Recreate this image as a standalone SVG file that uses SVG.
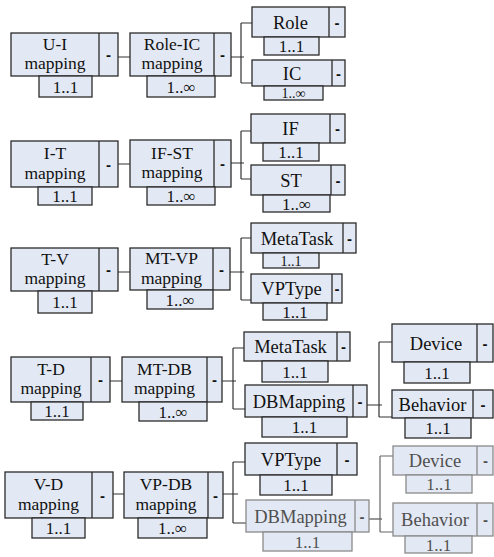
<svg xmlns="http://www.w3.org/2000/svg" width="494" height="557" viewBox="0 0 494 557">
<style>
.b{fill:#e3e9f4;stroke:#2b2b2b;stroke-width:1.3}
.d{stroke:#2b2b2b;stroke-width:1.3}
.t{font-family:"Liberation Serif","Times New Roman",serif;font-size:18.5px;fill:#111;text-anchor:middle}
.t2{font-family:"Liberation Serif","Times New Roman",serif;font-size:17.5px;fill:#111;text-anchor:middle}
.m{font-family:"Liberation Serif","Times New Roman",serif;font-size:17px;fill:#111;text-anchor:middle}
.s{font-size:14px}
.x{font-family:"Liberation Sans",Arial,sans-serif;font-size:15px;font-weight:bold;fill:#111;text-anchor:middle}
.f .b{stroke:#8a8a8a}
.f .d{stroke:#8a8a8a}
.f .t,.f .m,.f .x{fill:#505050}
.c{fill:none;stroke:#333;stroke-width:1.2}
</style>
<rect width="494" height="557" fill="#ffffff"/>
<g id="connectors" class="c">
<path d="M118,57H130M231,57H244M241,23V83M241,23H252M241,83H252"/>
<path d="M118,164H130M231,163H244M241,131V179M241,131H251M241,179H251"/>
<path d="M118,272H130M230,272H244M241,238V300M241,238H251M241,300H251"/>
<path d="M110,381H122M222,381H236M233,348V409M233,348H244M233,409H245M367,405H382M379,342V417M379,342H392M379,417H392"/>
<path d="M113,494H124M223,494H238M233,462V523M233,462H245M233,523H246M369,519H382"/>
<path d="M380,456V532M380,456H393M380,532H393" stroke="#666"/>
</g>
<g id="n_ui">
<rect class="b" x="11" y="33" width="107" height="43"/><line class="d" x1="99" y1="33" x2="99" y2="76"/>
<text class="t2" x="55" y="49.5">U-I</text><text class="t2" x="55" y="69">mapping</text><text class="x" x="108.5" y="60">-</text>
<rect class="b" x="39" y="76" width="53" height="21"/><text class="m" x="65.5" y="92.5">1..1</text>
</g>
<g id="n_roleic">
<rect class="b" x="130" y="33" width="101" height="43"/><line class="d" x1="214" y1="33" x2="214" y2="76"/>
<text class="t2" x="172" y="49.5">Role-IC</text><text class="t2" x="172" y="69">mapping</text><text class="x" x="222.5" y="60">-</text>
<rect class="b" x="147" y="76" width="68" height="21"/><text class="m" x="181" y="92.5">1..∞</text>
</g>
<g id="n_role">
<rect class="b" x="252" y="7" width="93" height="30"/><line class="d" x1="329" y1="7" x2="329" y2="37"/>
<text class="t" x="290.5" y="28.5">Role</text><text class="x" x="337" y="27.5">-</text>
<rect class="b" x="264" y="37" width="55" height="18"/><text class="m" x="291.5" y="52">1..1</text>
</g>
<g id="n_ic">
<rect class="b" x="252" y="60" width="93" height="26"/><line class="d" x1="332" y1="60" x2="332" y2="86"/>
<text class="t" x="292" y="79.5">IC</text><text class="x" x="338.5" y="78.5">-</text>
<rect class="b" x="264" y="86" width="59" height="14"/><text class="m s" x="293.5" y="98">1..∞</text>
</g>
<g id="n_it">
<rect class="b" x="11" y="141" width="107" height="46"/><line class="d" x1="99" y1="141" x2="99" y2="187"/>
<text class="t2" x="55" y="159">I-T</text><text class="t2" x="55" y="178.5">mapping</text><text class="x" x="108.5" y="169.5">-</text>
<rect class="b" x="38" y="187" width="54" height="18"/><text class="m" x="65" y="202">1..1</text>
</g>
<g id="n_ifst">
<rect class="b" x="130" y="140" width="101" height="47"/><line class="d" x1="214" y1="140" x2="214" y2="187"/>
<text class="t2" x="172" y="158.5">IF-ST</text><text class="t2" x="172" y="178">mapping</text><text class="x" x="222.5" y="169">-</text>
<rect class="b" x="147" y="187" width="68" height="18"/><text class="m" x="181" y="202">1..∞</text>
</g>
<g id="n_if">
<rect class="b" x="251" y="114" width="94" height="29"/><line class="d" x1="330" y1="114" x2="330" y2="143"/>
<text class="t" x="290.5" y="135">IF</text><text class="x" x="337.5" y="134">-</text>
<rect class="b" x="263" y="143" width="56" height="18"/><text class="m" x="291" y="158">1..1</text>
</g>
<g id="n_st">
<rect class="b" x="251" y="165" width="94" height="30"/><line class="d" x1="331" y1="165" x2="331" y2="195"/>
<text class="t" x="291" y="186.5">ST</text><text class="x" x="338" y="185.5">-</text>
<rect class="b" x="263" y="195" width="67" height="17"/><text class="m" x="296.5" y="209.5">1..∞</text>
</g>
<g id="n_tv">
<rect class="b" x="11" y="248" width="107" height="43"/><line class="d" x1="99" y1="248" x2="99" y2="291"/>
<text class="t2" x="55" y="264.5">T-V</text><text class="t2" x="55" y="284">mapping</text><text class="x" x="108.5" y="275">-</text>
<rect class="b" x="38" y="291" width="54" height="22"/><text class="m" x="65" y="308">1..1</text>
</g>
<g id="n_mtvp">
<rect class="b" x="130" y="248" width="100" height="42"/><line class="d" x1="213" y1="248" x2="213" y2="290"/>
<text class="t2" x="171.5" y="264">MT-VP</text><text class="t2" x="171.5" y="283.5">mapping</text><text class="x" x="221.5" y="274.5">-</text>
<rect class="b" x="147" y="290" width="66" height="19"/><text class="m" x="180" y="305.5">1..∞</text>
</g>
<g id="n_metatask3">
<rect class="b" x="251" y="223" width="105" height="30"/><line class="d" x1="343" y1="223" x2="343" y2="253"/>
<text class="t" x="297" y="244.5">MetaTask</text><text class="x" x="349.5" y="243.5">-</text>
<rect class="b" x="263" y="253" width="56" height="15"/><text class="m s" x="291" y="266">1..1</text>
</g>
<g id="n_vptype3">
<rect class="b" x="251" y="274" width="91" height="29"/><line class="d" x1="332" y1="274" x2="332" y2="303"/>
<text class="t" x="291.5" y="295">VPType</text><text class="x" x="337" y="294">-</text>
<rect class="b" x="263" y="303" width="64" height="17"/><text class="m" x="295" y="317.5">1..1</text>
</g>
<g id="n_td">
<rect class="b" x="11" y="357" width="99" height="45"/><line class="d" x1="91" y1="357" x2="91" y2="402"/>
<text class="t2" x="51" y="374.5">T-D</text><text class="t2" x="51" y="394">mapping</text><text class="x" x="100.5" y="385">-</text>
<rect class="b" x="31" y="402" width="52" height="18"/><text class="m" x="57" y="417">1..1</text>
</g>
<g id="n_mtdb">
<rect class="b" x="122" y="357" width="100" height="45"/><line class="d" x1="207" y1="357" x2="207" y2="402"/>
<text class="t2" x="164.5" y="374.5">MT-DB</text><text class="t2" x="164.5" y="394">mapping</text><text class="x" x="214.5" y="385">-</text>
<rect class="b" x="139" y="402" width="68" height="19"/><text class="m" x="173" y="417.5">1..∞</text>
</g>
<g id="n_metatask4">
<rect class="b" x="244" y="332" width="106" height="29"/><line class="d" x1="337" y1="332" x2="337" y2="361"/>
<text class="t" x="290.5" y="353">MetaTask</text><text class="x" x="343.5" y="352">-</text>
<rect class="b" x="262" y="361" width="66" height="21"/><text class="m" x="295" y="377.5">1..1</text>
</g>
<g id="n_dbmapping4">
<rect class="b" x="245" y="385" width="122" height="32"/><line class="d" x1="353" y1="385" x2="353" y2="417"/>
<text class="t" x="299" y="407.5">DBMapping</text><text class="x" x="360" y="406.5">-</text>
<rect class="b" x="262" y="417" width="85" height="20"/><text class="m" x="304.5" y="433">1..1</text>
</g>
<g id="n_device4">
<rect class="b" x="392" y="324" width="101" height="38"/><line class="d" x1="477" y1="324" x2="477" y2="362"/>
<text class="t" x="436" y="349.5">Device</text><text class="x" x="485" y="348.5">-</text>
<rect class="b" x="404" y="362" width="66" height="21"/><text class="m" x="437" y="378.5">1..1</text>
</g>
<g id="n_behavior4">
<rect class="b" x="392" y="390" width="101" height="28"/><line class="d" x1="473" y1="390" x2="473" y2="418"/>
<text class="t" x="432.5" y="410.5">Behavior</text><text class="x" x="483" y="409.5">-</text>
<rect class="b" x="405" y="418" width="66" height="20"/><text class="m" x="438" y="434">1..1</text>
</g>
<g id="n_vd">
<rect class="b" x="5" y="472" width="108" height="46"/><line class="d" x1="92" y1="472" x2="92" y2="518"/>
<text class="t2" x="48.5" y="490">V-D</text><text class="t2" x="48.5" y="509.5">mapping</text><text class="x" x="102.5" y="500.5">-</text>
<rect class="b" x="32" y="518" width="53" height="20"/><text class="m" x="58.5" y="534">1..1</text>
</g>
<g id="n_vpdb">
<rect class="b" x="124" y="472" width="99" height="46"/><line class="d" x1="208" y1="472" x2="208" y2="518"/>
<text class="t2" x="166" y="490">VP-DB</text><text class="t2" x="166" y="509.5">mapping</text><text class="x" x="215.5" y="500.5">-</text>
<rect class="b" x="138" y="518" width="69" height="20"/><text class="m" x="172.5" y="534">1..∞</text>
</g>
<g id="n_vptype5">
<rect class="b" x="245" y="443" width="112" height="32"/><line class="d" x1="337" y1="443" x2="337" y2="475"/>
<text class="t" x="291" y="465.5">VPType</text><text class="x" x="347" y="464.5">-</text>
<rect class="b" x="260" y="475" width="72" height="20"/><text class="m" x="296" y="491">1..1</text>
</g>
<g id="n_dbmapping5" class="f">
<rect class="b" x="246" y="500" width="123" height="32"/><line class="d" x1="355" y1="500" x2="355" y2="532"/>
<text class="t" x="300.5" y="522.5">DBMapping</text><text class="x" x="362" y="521.5">-</text>
<rect class="b" x="263" y="532" width="89" height="19"/><text class="m" x="307.5" y="547.5">1..1</text>
</g>
<g id="n_device5" class="f">
<rect class="b" x="393" y="446" width="100" height="29"/><line class="d" x1="477" y1="446" x2="477" y2="475"/>
<text class="t" x="435" y="467">Device</text><text class="x" x="485.5" y="466">-</text>
<rect class="b" x="406" y="475" width="66" height="18"/><text class="m" x="439" y="490">1..1</text>
</g>
<g id="n_behavior5" class="f">
<rect class="b" x="393" y="503" width="100" height="33"/><line class="d" x1="477" y1="503" x2="477" y2="536"/>
<text class="t" x="435" y="526">Behavior</text><text class="x" x="485.5" y="525">-</text>
<rect class="b" x="405" y="536" width="67" height="17"/><text class="m" x="438.5" y="550.5">1..1</text>
</g>
</svg>
